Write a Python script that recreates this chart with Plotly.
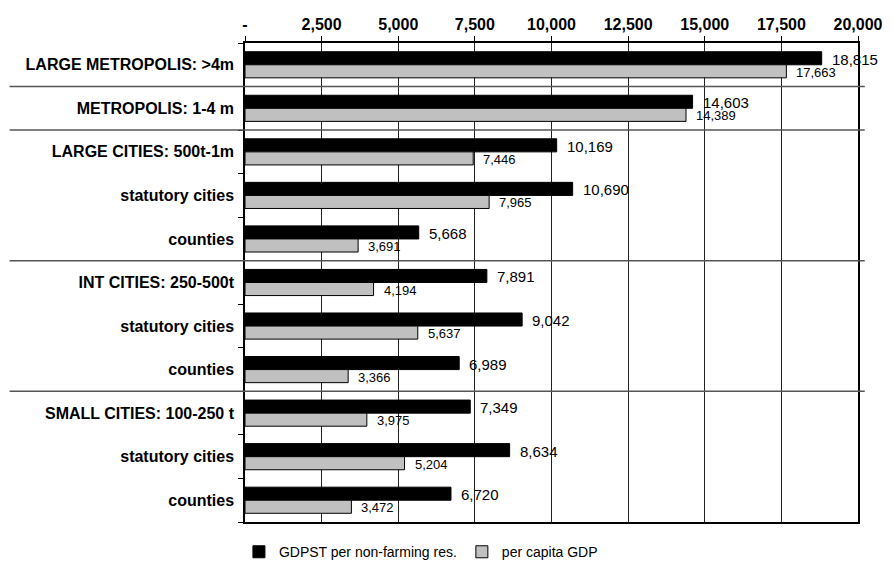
import plotly.graph_objects as go

categories = [
    "LARGE METROPOLIS: >4m",
    "METROPOLIS: 1-4 m",
    "LARGE CITIES: 500t-1m",
    "statutory cities",
    "counties",
    "INT CITIES: 250-500t",
    "statutory cities",
    "counties",
    "SMALL CITIES: 100-250 t",
    "statutory cities",
    "counties",
]
gdpst_nonfarm = [18815, 14603, 10169, 10690, 5668, 7891, 9042, 6989, 7349, 8634, 6720]
per_capita_gdp = [17663, 14389, 7446, 7965, 3691, 4194, 5637, 3366, 3975, 5204, 3472]
group_sizes = [1, 1, 3, 3, 3]
x_tickvals = [0, 2500, 5000, 7500, 10000, 12500, 15000, 17500, 20000]
x_ticktext = ["-", "2,500", "5,000", "7,500", "10,000", "12,500", "15,000", "17,500", "20,000"]

pos = list(range(len(categories)))
FONT = "Liberation Sans, Arial, sans-serif"

fig = go.Figure()
fig.add_trace(go.Bar(
    y=pos, x=gdpst_nonfarm, orientation="h", name="GDPST per non-farming res.",
    marker=dict(color="#000000", line=dict(color="#000000", width=1)),
))
fig.add_trace(go.Bar(
    y=pos, x=per_capita_gdp, orientation="h", name="per capita GDP",
    marker=dict(color="#c0c0c0", line=dict(color="#000000", width=1)),
))

annotations = []
for i in pos:
    annotations.append(dict(
        x=gdpst_nonfarm[i], y=i - 0.15, xref="x", yref="y",
        text=f"{gdpst_nonfarm[i]:,}", showarrow=False, xanchor="left", yanchor="middle",
        xshift=8, yshift=-1, font=dict(family=FONT, size=15, color="#000000"),
    ))
    annotations.append(dict(
        x=per_capita_gdp[i], y=i + 0.15, xref="x", yref="y",
        text=f"{per_capita_gdp[i]:,}", showarrow=False, xanchor="left", yanchor="middle",
        xshift=8, yshift=-1, font=dict(family=FONT, size=13, color="#000000"),
    ))

shapes = []
acc = 0
for g in group_sizes[:-1]:
    acc += g
    b = acc - 0.5
    shapes.append(dict(
        type="line", xref="paper", yref="y", x0=-0.384, x1=1.011, y0=b, y1=b,
        line=dict(color="#555555", width=1.5), layer="above",
    ))

fig.update_layout(
    width=893, height=568,
    margin=dict(l=245, r=35, t=43, b=46, autoexpand=False),
    paper_bgcolor="white", plot_bgcolor="white",
    barmode="group", bargap=0.4, bargroupgap=0,
    font=dict(family=FONT, color="#000000"),
    showlegend=True,
    legend=dict(
        orientation="h", x=0.287, y=-0.063, xanchor="center", yanchor="middle",
        font=dict(family=FONT, size=14, color="#000000"),
        itemwidth=30, traceorder="normal", bgcolor="rgba(0,0,0,0)",
    ),
    xaxis=dict(
        side="top", range=[0, 20000], tickmode="array", tickvals=x_tickvals, ticktext=x_ticktext,
        ticks="outside", ticklen=5, tickcolor="#000000", tickwidth=1,
        showgrid=True, gridcolor="#222222", gridwidth=1, zeroline=False,
        showline=True, linecolor="#000000", linewidth=1.5, mirror=True,
        tickfont=dict(family=FONT, size=16, color="#000000", weight="bold"),
        fixedrange=True,
    ),
    yaxis=dict(
        range=[10.5, -0.5], tickmode="array", tickvals=pos, ticktext=categories,
        ticks="", showgrid=False, zeroline=False,
        showline=True, linecolor="#000000", linewidth=1.5, mirror=True,
        tickfont=dict(family=FONT, size=16, color="#000000", weight="bold"),
        ticklabelstandoff=6,
        minor=dict(tickmode="array", tickvals=[p + 0.5 for p in [-1] + pos], ticks="outside",
                   ticklen=5, tickcolor="#000000", tickwidth=1, showgrid=False),
        fixedrange=True,
    ),
    annotations=annotations,
    shapes=shapes,
)

fig.write_html("out.html")
